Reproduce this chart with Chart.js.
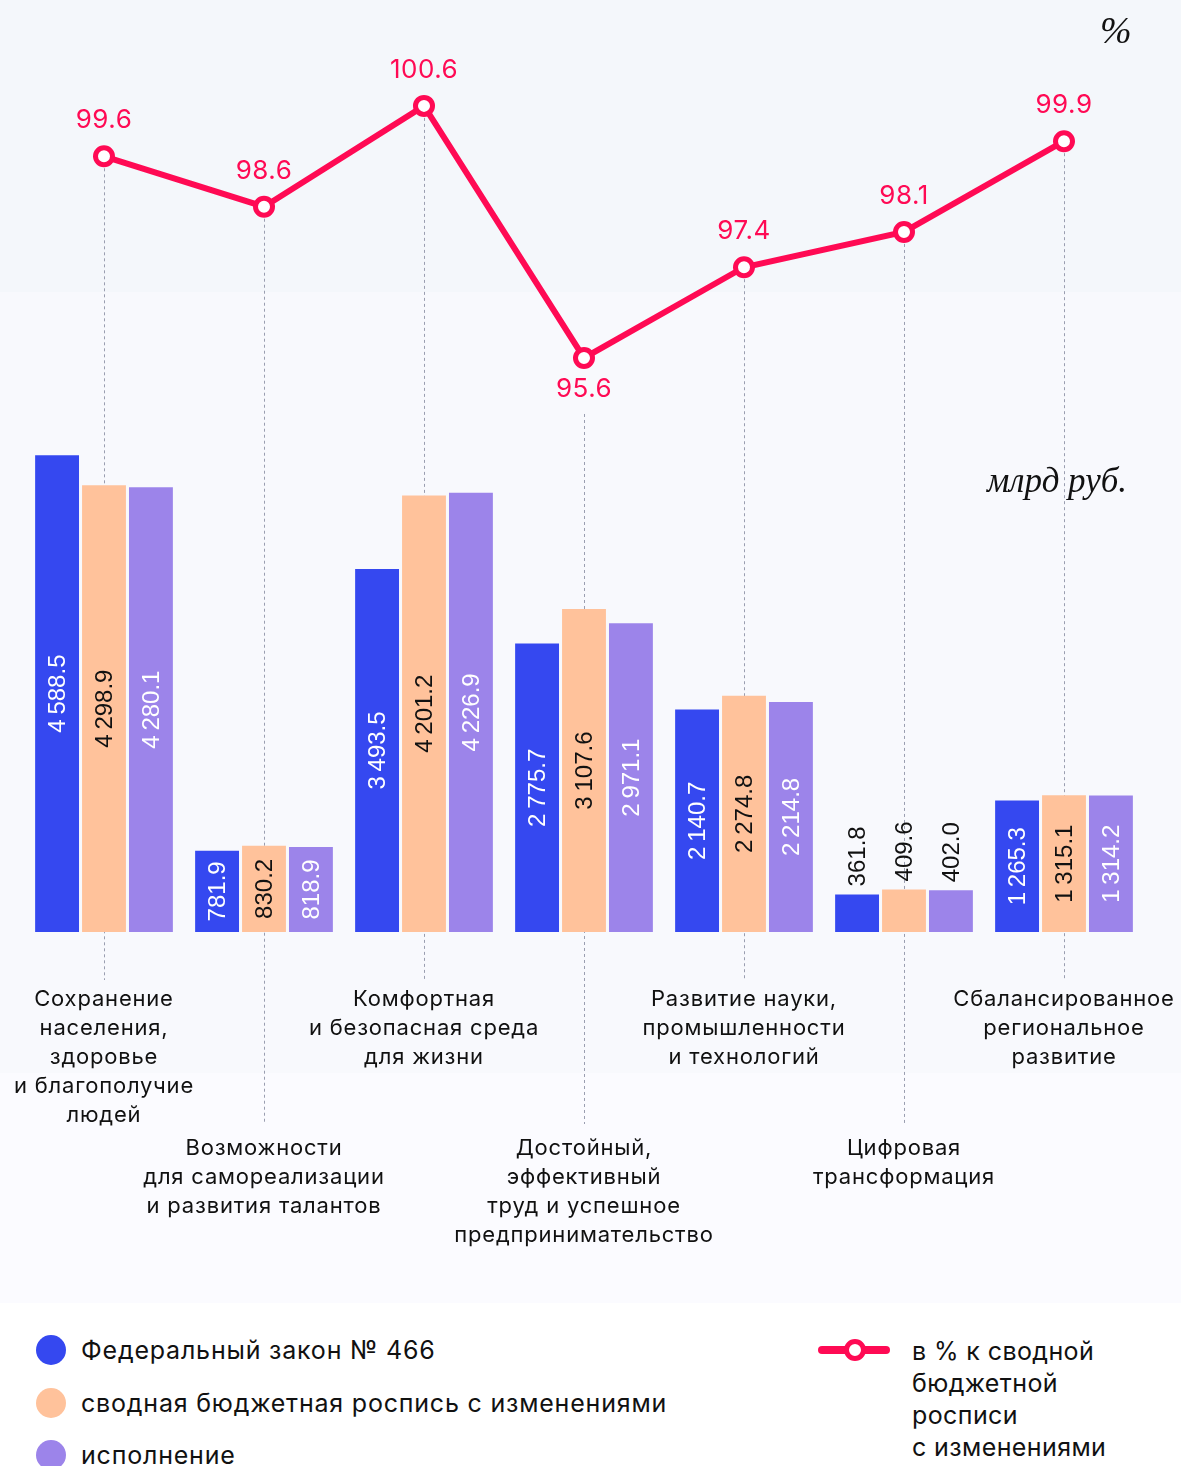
<!DOCTYPE html>
<html>
<head>
<meta charset="utf-8">
<script src="https://cdn.jsdelivr.net/npm/chart.js@4"></script>
<style>
  body { margin:0; width:1181px; height:1466px; position:relative; background:#fff; overflow:hidden; font-family:Inter, sans-serif; color:#111; }
  .band { position:absolute; left:0; width:1181px; }
  #chartBox { position:absolute; left:0; top:0; width:1181px; height:1300px; }
  .unit { position:absolute; font-family:"Liberation Serif", serif; font-style:italic; color:#111; white-space:nowrap; }
  .lg { position:absolute; font-size:25px; line-height:32px; white-space:nowrap; letter-spacing:0.8px; }
  .dot { position:absolute; width:30px; height:30px; border-radius:50%; }
</style>
</head>
<body>
<div class="band" style="top:0;height:292px;background:#f4f7fb"></div>
<div class="band" style="top:292px;height:781px;background:#f8f9fd"></div>
<div class="band" style="top:1073px;height:230px;background:#fbfbff"></div>

<div id="chartBox"><canvas id="myChart" width="1181" height="1300"></canvas></div>

<div class="unit" style="left:1100px;top:8px;font-size:38px">%</div>
<div class="unit" style="left:987px;top:461px;font-size:35px">млрд руб.</div>

<div class="dot" style="left:36px;top:1335px;background:#3548f0"></div>
<div class="lg" style="left:81px;top:1334px">Федеральный закон № 466</div>
<div class="dot" style="left:36px;top:1388px;background:#ffc29b"></div>
<div class="lg" style="left:81px;top:1387px">сводная бюджетная роспись с изменениями</div>
<div class="dot" style="left:36px;top:1440px;background:#9c84ea"></div>
<div class="lg" style="left:81px;top:1439px">исполнение</div>

<div style="position:absolute;left:818px;top:1346px;width:72px;height:8px;border-radius:4px;background:#ff0a54"></div>
<div style="position:absolute;left:844px;top:1339px;width:12px;height:12px;border:5px solid #ff0a54;border-radius:50%;background:#fff"></div>
<div class="lg" style="left:912px;top:1335px;letter-spacing:0.4px">в % к сводной<br>бюджетной<br>росписи<br>с изменениями</div>

<script>
const categories = [
  ["Сохранение", "населения,", "здоровье", "и благополучие", "людей"],
  ["Возможности", "для самореализации", "и развития талантов"],
  ["Комфортная", "и безопасная среда", "для жизни"],
  ["Достойный,", "эффективный", "труд и успешное", "предпринимательство"],
  ["Развитие науки,", "промышленности", "и технологий"],
  ["Цифровая", "трансформация"],
  ["Сбалансированное", "региональное", "развитие"]
];
const fedLaw   = [4588.5, 781.9, 3493.5, 2775.7, 2140.7, 361.8, 1265.3];
const budget   = [4298.9, 830.2, 4201.2, 3107.6, 2274.8, 409.6, 1315.1];
const executed = [4280.1, 818.9, 4226.9, 2971.1, 2214.8, 402.0, 1314.2];
const percent  = [99.6, 98.6, 100.6, 95.6, 97.4, 98.1, 99.9];

const BLUE = '#3548f0', ORANGE = '#ffc29b', PURPLE = '#9c84ea', RED = '#ff0a54';

function fmt(v) {
  let parts = v.toFixed(1).split('.');
  return parts[0].replace(/\B(?=(\d{3})+(?!\d))/g, '\u2009') + '.' + parts[1];
}

const decor = {
  id: 'decor',
  beforeDatasetsDraw(chart) {
    // dotted guides from the line points down to the category names
    const ctx = chart.ctx, meta = chart.getDatasetMeta(3), area = chart.chartArea;
    ctx.save();
    ctx.strokeStyle = '#9a9eb0';
    ctx.lineWidth = 1;
    ctx.setLineDash([3, 3]);
    meta.data.forEach((pt, i) => {
      const below = percent[i] < 96;
      const y0 = below ? pt.y + 56 : pt.y + 12;
      const y1 = i % 2 === 0 ? area.bottom + 48 : area.bottom + 192;
      ctx.beginPath();
      ctx.moveTo(Math.round(pt.x) + 0.5, y0);
      ctx.lineTo(Math.round(pt.x) + 0.5, y1);
      ctx.stroke();
    });
    ctx.restore();
  },
  afterDatasetsDraw(chart) {
    const ctx = chart.ctx, area = chart.chartArea;
    ctx.save();
    // values in bars
    ctx.font = '24px "Liberation Sans", Arial, sans-serif';
    [0, 1, 2].forEach(d => {
      const meta = chart.getDatasetMeta(d);
      const vals = chart.data.datasets[d].data;
      meta.data.forEach((bar, i) => {
        const txt = fmt(vals[i]);
        const w = ctx.measureText(txt).width;
        const h = bar.base - bar.y;
        ctx.save();
        ctx.textBaseline = 'middle';
        if (h < w + 16) {
          ctx.translate(bar.x, bar.y - 8);
          ctx.rotate(-Math.PI / 2);
          ctx.textAlign = 'left';
          ctx.fillStyle = '#111';
        } else {
          ctx.translate(bar.x, (bar.y + bar.base) / 2);
          ctx.rotate(-Math.PI / 2);
          ctx.textAlign = 'center';
          ctx.fillStyle = d === 1 ? '#111' : '#fff';
        }
        ctx.fillText(txt, 0, 1);
        ctx.restore();
      });
    });
    // percent labels
    ctx.font = '26px Inter, sans-serif';
    ctx.letterSpacing = '0.5px';
    ctx.fillStyle = RED;
    ctx.textAlign = 'center';
    ctx.textBaseline = 'middle';
    chart.getDatasetMeta(3).data.forEach((pt, i) => {
      const below = percent[i] < 96;
      ctx.fillText(percent[i].toFixed(1), pt.x, below ? pt.y + 31 : pt.y - 36);
    });
    // category names
    ctx.font = '22px Inter, sans-serif';
    ctx.letterSpacing = '0.8px';
    ctx.fillStyle = '#111';
    const xs = chart.scales.x;
    categories.forEach((lines, i) => {
      const x = xs.getPixelForValue(i);
      const top = i % 2 === 0 ? area.bottom + 67 : area.bottom + 216;
      lines.forEach((ln, k) => ctx.fillText(ln, x, top + k * 29));
    });
    ctx.restore();
  }
};

const barOpts = { categoryPercentage: 0.88, barPercentage: 0.935, borderWidth: 0, order: 1, yAxisID: 'y' };

new Chart(document.getElementById('myChart'), {
  type: 'bar',
  data: {
    labels: categories.map(c => c.join(' ')),
    datasets: [
      Object.assign({ label: 'Федеральный закон № 466', data: fedLaw, backgroundColor: BLUE }, barOpts),
      Object.assign({ label: 'сводная бюджетная роспись с изменениями', data: budget, backgroundColor: ORANGE }, barOpts),
      Object.assign({ label: 'исполнение', data: executed, backgroundColor: PURPLE }, barOpts),
      {
        type: 'line',
        label: 'в % к сводной бюджетной росписи с изменениями',
        data: percent,
        yAxisID: 'y2',
        order: 0,
        borderColor: RED,
        borderWidth: 6,
        pointRadius: 8.5,
        pointBorderWidth: 5,
        pointBackgroundColor: '#fff',
        pointBorderColor: RED,
        tension: 0
      }
    ]
  },
  options: {
    responsive: false,
    animation: false,
    layout: { autoPadding: false, padding: { left: 24, right: 37, top: 0, bottom: 368 } },
    scales: {
      x: { display: false, offset: true },
      y: { display: false, min: 0, max: 8970 },
      y2: { display: false, min: 84.215, max: 102.70 }
    },
    plugins: { legend: { display: false }, tooltip: { enabled: false } }
  },
  plugins: [decor]
});
</script>
</body>
</html>
